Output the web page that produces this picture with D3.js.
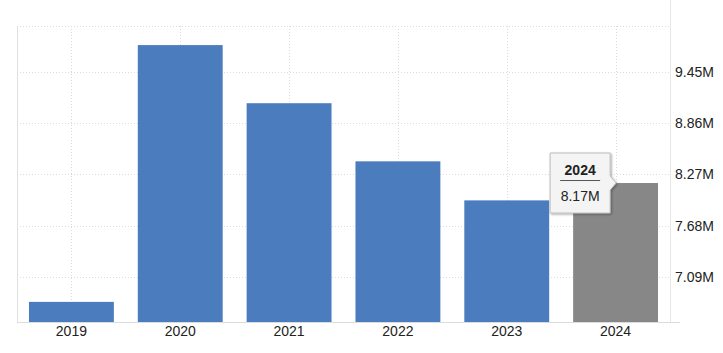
<!DOCTYPE html>
<html>
<head>
<meta charset="utf-8">
<script src="https://cdn.jsdelivr.net/npm/d3@7"></script>
<style>
  body { margin: 0; background: #fff; font-family: "Liberation Sans", Arial, sans-serif; }
  svg text { font-family: "Liberation Sans", Arial, sans-serif; }
</style>
</head>
<body>
<div id="chart"></div>
<script>
const years = ['2019', '2020', '2021', '2022', '2023', '2024'];
const values = [6.80, 9.76, 9.09, 8.42, 7.97, 8.17];
const tickValues = [7.09, 7.68, 8.27, 8.86, 9.45];
const highlightYear = '2024';

const svgWidth = 723;
const svgHeight = 353;
const plotLeft = 17;
const plotRight = 670;
const plotTop = 26;
const plotBottom = 322;

const svg = d3.select('#chart')
    .append('svg')
    .attr('width', svgWidth)
    .attr('height', svgHeight);

const defs = svg.append('defs');
defs.append('filter')
    .attr('id', 'shadow')
    .attr('x', '-20%').attr('y', '-20%')
    .attr('width', '150%').attr('height', '150%')
    .append('feDropShadow')
    .attr('dx', 1)
    .attr('dy', 1)
    .attr('stdDeviation', 1.2)
    .attr('flood-color', '#000')
    .attr('flood-opacity', 0.35);

const scaleX = d3.scaleBand()
    .domain(years)
    .range([plotLeft, plotRight])
    .paddingInner(0.22)
    .paddingOuter(0.11);

const scaleY = d3.scaleLinear()
    .domain([6.568, 9.98])
    .range([plotBottom, plotTop]);

// grid
const grid = svg.append('g');
grid.selectAll('.hgrid')
    .data(tickValues.concat([scaleY.domain()[1]]))
    .enter()
    .append('line')
    .attr('x1', plotLeft)
    .attr('x2', plotRight)
    .attr('y1', d => Math.round(scaleY(d)) + 0.5)
    .attr('y2', d => Math.round(scaleY(d)) + 0.5)
    .attr('stroke', '#dcdcdc')
    .attr('stroke-dasharray', '1,2');

grid.selectAll('.vgrid')
    .data(years)
    .enter()
    .append('line')
    .attr('x1', d => Math.round(scaleX(d) + scaleX.bandwidth() / 2) + 0.5)
    .attr('x2', d => Math.round(scaleX(d) + scaleX.bandwidth() / 2) + 0.5)
    .attr('y1', plotTop)
    .attr('y2', plotBottom)
    .attr('stroke', '#dcdcdc')
    .attr('stroke-dasharray', '1,2');

// borders
svg.append('line')
    .attr('x1', plotLeft + 0.5).attr('x2', plotLeft + 0.5)
    .attr('y1', plotTop).attr('y2', plotBottom)
    .attr('stroke', '#e0e0e0');
svg.append('line')
    .attr('x1', plotRight + 0.5).attr('x2', plotRight + 0.5)
    .attr('y1', 0).attr('y2', plotBottom)
    .attr('stroke', '#e6e6e6');

// bars
svg.selectAll('rect.bar')
    .data(years.map((y, i) => ({ year: y, value: values[i] })))
    .enter()
    .append('rect')
    .attr('class', 'bar')
    .attr('x', d => scaleX(d.year))
    .attr('y', d => scaleY(d.value))
    .attr('width', scaleX.bandwidth())
    .attr('height', d => plotBottom - scaleY(d.value))
    .attr('fill', d => d.year === highlightYear ? '#878787' : '#4b7dbe');

// x axis
const xAxis = d3.axisBottom(scaleX).tickSize(0).tickPadding(4);
const gx = svg.append('g')
    .attr('transform', `translate(0,${plotBottom})`)
    .call(xAxis);
gx.select('.domain').remove();
gx.selectAll('text')
    .attr('fill', '#222')
    .style('font-size', '14px');
svg.append('line')
    .attr('x1', plotLeft).attr('x2', 680)
    .attr('y1', plotBottom + 0.5).attr('y2', plotBottom + 0.5)
    .attr('stroke', '#dcdcdc');

// y axis (right)
const yAxis = d3.axisRight(scaleY)
    .tickValues(tickValues)
    .tickSize(0)
    .tickPadding(5)
    .tickFormat(d => d.toFixed(2) + 'M');
const gy = svg.append('g')
    .attr('transform', `translate(${plotRight},0)`)
    .call(yAxis);
gy.select('.domain').remove();
gy.selectAll('text')
    .attr('fill', '#222')
    .style('font-size', '14px');

// tooltip
const tipIndex = years.indexOf(highlightYear);
const tipX = scaleX(highlightYear) - 23;
const tipY = scaleY(values[tipIndex]);
const tip = svg.append('g')
    .attr('transform', `translate(${tipX},${tipY})`);
const boxW = 60, boxH = 60, boxTop = -30;
tip.append('path')
    .attr('d', `M0,${boxTop} H${boxW} V${-7} L${boxW + 6},0 L${boxW},7 V${boxTop + boxH} H0 Z`)
    .attr('fill', '#f4f4f4')
    .attr('stroke', '#bdbdbd')
    .attr('stroke-width', 1)
    .attr('filter', 'url(#shadow)');
tip.append('text')
    .attr('x', boxW / 2)
    .attr('y', boxTop + 22)
    .attr('text-anchor', 'middle')
    .attr('font-weight', 'bold')
    .attr('fill', '#222')
    .style('font-size', '14px')
    .text(highlightYear);
tip.append('line')
    .attr('x1', 10).attr('x2', boxW - 10)
    .attr('y1', boxTop + 27.5).attr('y2', boxTop + 27.5)
    .attr('stroke', '#555');
tip.append('text')
    .attr('x', boxW / 2)
    .attr('y', boxTop + 48)
    .attr('text-anchor', 'middle')
    .attr('fill', '#222')
    .style('font-size', '14px')
    .text(values[tipIndex].toFixed(2) + 'M');
</script>
</body>
</html>
